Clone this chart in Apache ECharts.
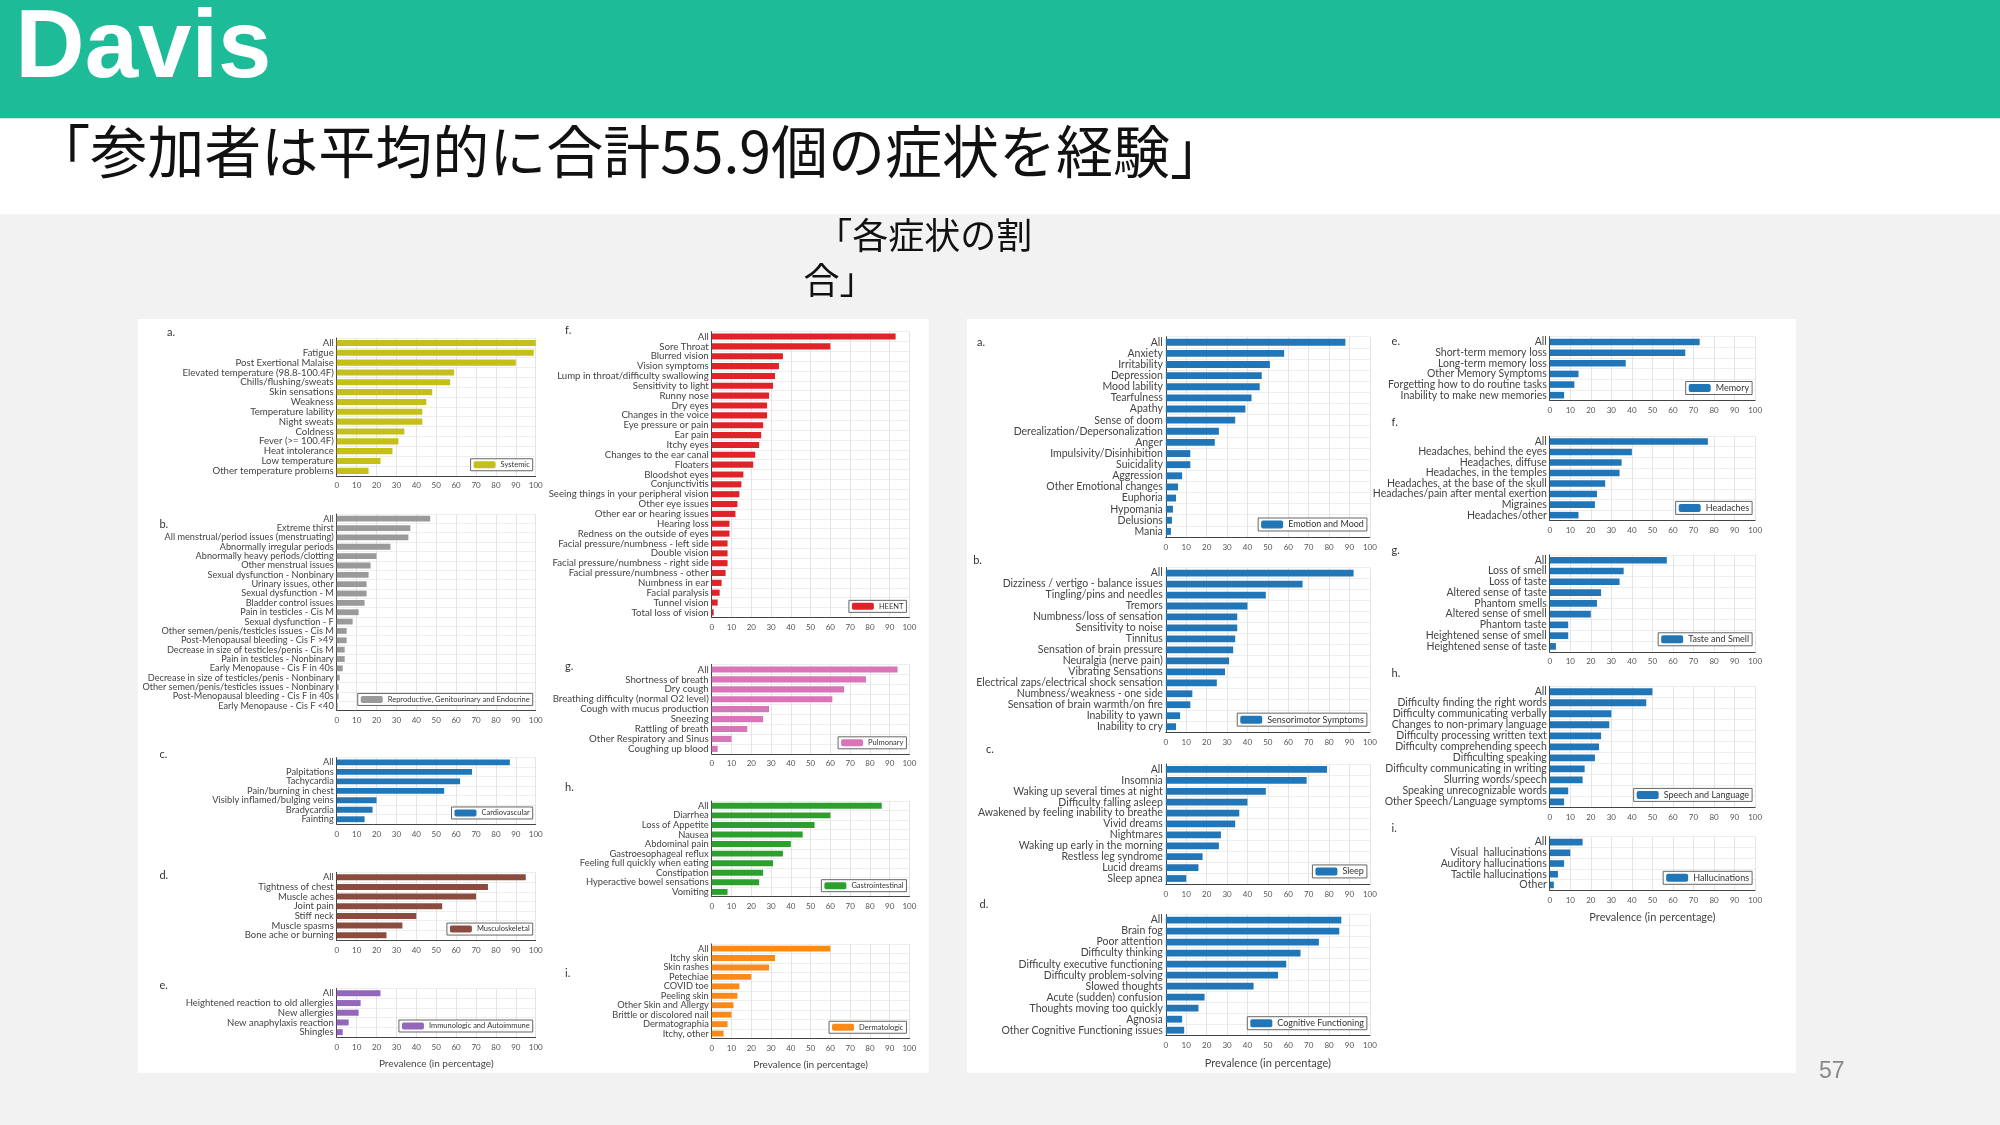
<!DOCTYPE html>
<html>
<head>
<meta charset="utf-8">
<title>Davis</title>
<script src="https://cdn.jsdelivr.net/npm/echarts@6/dist/echarts.min.js"></script>
<style>html,body{margin:0;padding:0;background:#f2f2f2}</style>
</head>
<body>
<div id="main" style="width:2000px;height:1125px;"></div>
<script>
// ---- data (percent prevalence) ----
var sysLabels = ['All','Fatigue','Post Exertional Malaise','Elevated temperature (98.8-100.4F)','Chills/flushing/sweats','Skin sensations','Weakness','Temperature lability','Night sweats','Coldness','Fever (>= 100.4F)','Heat intolerance','Low temperature','Other temperature problems'];
var sysValues = [100,99,90,59,57,48,45,43,43,34,31,28,22,16];
var repLabels = ['All','Extreme thirst','All menstrual/period issues (menstruating)','Abnormally irregular periods','Abnormally heavy periods/clotting','Other menstrual issues','Sexual dysfunction - Nonbinary','Urinary issues, other','Sexual dysfunction - M','Bladder control issues','Pain in testicles - Cis M','Sexual dysfunction - F','Other semen/penis/testicles issues - Cis M','Post-Menopausal bleeding - Cis F >49','Decrease in size of testicles/penis - Cis M','Pain in testicles - Nonbinary','Early Menopause - Cis F in 40s','Decrease in size of testicles/penis - Nonbinary','Other semen/penis/testicles issues - Nonbinary','Post-Menopausal bleeding - Cis F in 40s','Early Menopause - Cis F <40'];
var repValues = [47,37,36,27,20,17,16,15,15,14,11,8,5,5,4,4,3,1.5,1,1,0.5];
var carLabels = ['All','Palpitations','Tachycardia','Pain/burning in chest','Visibly inflamed/bulging veins','Bradycardia','Fainting'];
var carValues = [87,68,62,54,20,18,14];
var musLabels = ['All','Tightness of chest','Muscle aches','Joint pain','Stiff neck','Muscle spasms','Bone ache or burning'];
var musValues = [95,76,70,53,40,33,25];
var immLabels = ['All','Heightened reaction to old allergies','New allergies','New anaphylaxis reaction','Shingles'];
var immValues = [22,12,11,6,3];
var heeLabels = ['All','Sore Throat','Blurred vision','Vision symptoms','Lump in throat/difficulty swallowing','Sensitivity to light','Runny nose','Dry eyes','Changes in the voice','Eye pressure or pain','Ear pain','Itchy eyes','Changes to the ear canal','Floaters','Bloodshot eyes','Conjunctivitis','Seeing things in your peripheral vision','Other eye issues','Other ear or hearing issues','Hearing loss','Redness on the outside of eyes','Facial pressure/numbness - left side','Double vision','Facial pressure/numbness - right side','Facial pressure/numbness - other','Numbness in ear','Facial paralysis','Tunnel vision','Total loss of vision'];
var heeValues = [93,60,36,34,32,31,29,28,28,26,25,24,22,21,16,15,14,13,12,9,9,8,8,8,7,5,4,3,1];
var pulLabels = ['All','Shortness of breath','Dry cough','Breathing difficulty (normal O2 level)','Cough with mucus production','Sneezing','Rattling of breath','Other Respiratory and Sinus','Coughing up blood'];
var pulValues = [94,78,67,61,29,26,18,10,3];
var gasLabels = ['All','Diarrhea','Loss of Appetite','Nausea','Abdominal pain','Gastroesophageal reflux','Feeling full quickly when eating','Constipation','Hyperactive bowel sensations','Vomiting'];
var gasValues = [86,60,52,46,40,36,31,26,24,8];
var derLabels = ['All','Itchy skin','Skin rashes','Petechiae','COVID toe','Peeling skin','Other Skin and Allergy','Brittle or discolored nail','Dermatographia','Itchy, other'];
var derValues = [60,32,29,20,14,13,11,10,8,6];
var emoLabels = ['All','Anxiety','Irritability','Depression','Mood lability','Tearfulness','Apathy','Sense of doom','Derealization/Depersonalization','Anger','Impulsivity/Disinhibition','Suicidality','Aggression','Other Emotional changes','Euphoria','Hypomania','Delusions','Mania'];
var emoValues = [88,58,51,47,46,42,39,34,26,24,12,12,8,6,5,3.5,3,2.5];
var senLabels = ['All','Dizziness / vertigo - balance issues','Tingling/pins and needles','Tremors','Numbness/loss of sensation','Sensitivity to noise','Tinnitus','Sensation of brain pressure','Neuralgia (nerve pain)','Vibrating Sensations','Electrical zaps/electrical shock sensation','Numbness/weakness - one side','Sensation of brain warmth/on fire','Inability to yawn','Inability to cry'];
var senValues = [92,67,49,40,35,35,34,33,31,29,25,13,12,7,5];
var slpLabels = ['All','Insomnia','Waking up several times at night','Difficulty falling asleep','Awakened by feeling inability to breathe','Vivid dreams','Nightmares','Waking up early in the morning','Restless leg syndrome','Lucid dreams','Sleep apnea'];
var slpValues = [79,69,49,40,36,34,27,26,18,16,10];
var cogLabels = ['All','Brain fog','Poor attention','Difficulty thinking','Difficulty executive functioning','Difficulty problem-solving','Slowed thoughts','Acute (sudden) confusion','Thoughts moving too quickly','Agnosia','Other Cognitive Functioning issues'];
var cogValues = [86,85,75,66,59,55,43,19,16,8,9];
var memLabels = ['All','Short-term memory loss','Long-term memory loss','Other Memory Symptoms','Forgetting how to do routine tasks','Inability to make new memories'];
var memValues = [73,66,37,14,12,7];
var hedLabels = ['All','Headaches, behind the eyes','Headaches, diffuse','Headaches, in the temples','Headaches, at the base of the skull','Headaches/pain after mental exertion','Migraines','Headaches/other'];
var hedValues = [77,40,35,34,27,23,22,14];
var tasLabels = ['All','Loss of smell','Loss of taste','Altered sense of taste','Phantom smells','Altered sense of smell','Phantom taste','Heightened sense of smell','Heightened sense of taste'];
var tasValues = [57,36,34,25,23,20,9,9,3];
var spcLabels = ['All','Difficulty finding the right words','Difficulty communicating verbally','Changes to non-primary language','Difficulty processing written text','Difficulty comprehending speech','Difficulting speaking','Difficulty communicating in writing','Slurring words/speech','Speaking unrecognizable words','Other Speech/Language symptoms'];
var spcValues = [50,47,30,29,25,24,22,17,16,9,7];
var halLabels = ['All','Visual  hallucinations','Auditory hallucinations','Tactile hallucinations','Other'];
var halValues = [16,10,7,4,2];

// ---- layout, in 1568-wide slide units, scaled below ----
var K = 2000 / 1568;
function S(v) { return v * K; }

var panels = [
  {l:'a.', lx:131, ly:256, name:'Systemic', c:'#c4bf1c', lab:sysLabels, val:sysValues, x0:264, x1:420, top:265, ax:373},
  {l:'b.', lx:125, ly:407, name:'Reproductive, Genitourinary and Endocrine', c:'#9a9a9a', lab:repLabels, val:repValues, x0:264, x1:420, top:403, ax:557},
  {l:'c.', lx:125, ly:587, name:'Cardiovascular', c:'#2176b8', lab:carLabels, val:carValues, x0:264, x1:420, top:594, ax:646},
  {l:'d.', lx:125, ly:682, name:'Musculoskeletal', c:'#8b4c3f', lab:musLabels, val:musValues, x0:264, x1:420, top:684, ax:737},
  {l:'e.', lx:125, ly:768, name:'Immunologic and Autoimmune', c:'#9467bd', lab:immLabels, val:immValues, x0:264, x1:420, top:775, ax:813, xname:true},
  {l:'f.', lx:443, ly:255, name:'HEENT', c:'#df2329', lab:heeLabels, val:heeValues, x0:558, x1:713, top:260, ax:484},
  {l:'g.', lx:443, ly:518, name:'Pulmonary', c:'#d974b9', lab:pulLabels, val:pulValues, x0:558, x1:713, top:521, ax:591},
  {l:'h.', lx:443, ly:613, name:'Gastrointestinal', c:'#2ca02c', lab:gasLabels, val:gasValues, x0:558, x1:713, top:628, ax:703},
  {l:'i.', lx:443, ly:759, name:'Dermatologic', c:'#fb8a18', lab:derLabels, val:derValues, x0:558, x1:713, top:740, ax:814, xname:true},
  {l:'a.', lx:766, ly:264, name:'Emotion and Mood', c:'#2176b8', lab:emoLabels, val:emoValues, x0:914, x1:1074, top:264, ax:421, big:true},
  {l:'b.', lx:763, ly:435, name:'Sensorimotor Symptoms', c:'#2176b8', lab:senLabels, val:senValues, x0:914, x1:1074, top:445, ax:574, big:true},
  {l:'c.', lx:773, ly:583, name:'Sleep', c:'#2176b8', lab:slpLabels, val:slpValues, x0:914, x1:1074, top:599, ax:693, big:true},
  {l:'d.', lx:768, ly:705, name:'Cognitive Functioning', c:'#2176b8', lab:cogLabels, val:cogValues, x0:914, x1:1074, top:717, ax:812, xname:true, big:true},
  {l:'e.', lx:1091, ly:263, name:'Memory', c:'#2176b8', lab:memLabels, val:memValues, x0:1215, x1:1376, top:264, ax:314, big:true},
  {l:'f.', lx:1091, ly:327, name:'Headaches', c:'#2176b8', lab:hedLabels, val:hedValues, x0:1215, x1:1376, top:342, ax:408, big:true},
  {l:'g.', lx:1091, ly:427, name:'Taste and Smell', c:'#2176b8', lab:tasLabels, val:tasValues, x0:1215, x1:1376, top:435, ax:511, big:true},
  {l:'h.', lx:1091, ly:524, name:'Speech and Language', c:'#2176b8', lab:spcLabels, val:spcValues, x0:1215, x1:1376, top:538, ax:633, big:true},
  {l:'i.', lx:1091, ly:645, name:'Hallucinations', c:'#2176b8', lab:halLabels, val:halValues, x0:1215, x1:1376, top:656, ax:698, xname:true, big:true}
];

var grids = [], xAxes = [], yAxes = [], series = [], legends = [];
var graphics = [
  {type:'rect', shape:{x:0, y:0, width:2000, height:S(93)}, style:{fill:'#1dbb98'}},
  {type:'rect', shape:{x:0, y:S(93), width:2000, height:S(75)}, style:{fill:'#ffffff'}},
  {type:'rect', shape:{x:S(108), y:S(250), width:S(620), height:S(591)}, style:{fill:'#ffffff'}},
  {type:'rect', shape:{x:S(758), y:S(250), width:S(650), height:S(591)}, style:{fill:'#ffffff'}},
  {type:'text', left:S(12), top:S(2), style:{text:'Davis', fill:'#fff', font:'bold 96px "Liberation Sans", Arial, sans-serif'}},
  {type:'text', left:S(26), top:S(96), style:{text:'「参加者は平均的に合計55.9個の症状を経験」', fill:'#111', font:'57px "Noto Sans CJK JP", sans-serif'}},
  {type:'text', left:S(640), top:S(170), style:{text:'「各症状の割', fill:'#111', font:'36px "Noto Sans CJK JP", sans-serif'}},
  {type:'text', left:S(630), top:S(206), style:{text:'合」', fill:'#111', font:'36px "Noto Sans CJK JP", sans-serif'}},
  {type:'text', left:S(1426), top:S(831), style:{text:'57', fill:'#888', font:'23px "Liberation Sans", Arial, sans-serif'}}
];

panels.forEach(function (p, i) {
  var n = p.lab.length;
  var step = (p.ax - p.top) / n * K;
  var fs = Math.max(7.5, Math.min(p.big ? 10.5 : 10, step * (p.big ? 1.1 : 0.98)));
  grids.push({left:S(p.x0), width:S(p.x1 - p.x0), top:S(p.top), height:S(p.ax - p.top)});
  xAxes.push({
    type:'value', gridIndex:i, min:0, max:100, interval:10,
    axisLine:{show:true, lineStyle:{color:'#444'}}, axisTick:{show:false},
    axisLabel:{fontSize:8, color:'#555', margin:6, fontFamily:'Lato'},
    splitLine:{show:true, lineStyle:{color:'#e4e4e4'}},
    name: p.xname ? 'Prevalence (in percentage)' : '', nameLocation:'middle', nameGap:22,
    nameTextStyle:{fontSize:p.big ? 11 : 10, color:'#444', fontFamily:'Lato'}
  });
  yAxes.push({
    type:'category', gridIndex:i, data:p.lab, inverse:true,
    axisLine:{show:true, lineStyle:{color:'#444'}}, axisTick:{show:false},
    axisLabel:{fontSize:fs, color:'#444', margin:3, interval:0, fontFamily:'Lato'},
    splitLine:{show:true, lineStyle:{color:'#eeeeee'}}
  });
  series.push({
    type:'bar', name:p.name, xAxisIndex:i, yAxisIndex:i, data:p.val,
    itemStyle:{color:p.c}, barCategoryGap:'38%', silent:true
  });
  legends.push({
    data:[p.name], right:2000 - S(p.x1) + 3, top:S(p.ax) - (p.big ? 19 : 17),
    itemWidth:22, itemHeight:p.big ? 8 : 7, itemGap:2, padding:[2, 3],
    borderColor:'#666', borderWidth:1, backgroundColor:'#fff',
    textStyle:{fontSize:p.big ? 9 : 7.5, color:'#333', fontFamily:'Lato'}, selectedMode:false
  });
  graphics.push({type:'text', left:S(p.lx), top:S(p.ly), style:{text:p.l, fill:'#333', font:'11px Lato, sans-serif'}});
});

var chart = echarts.init(document.getElementById('main'));
chart.setOption({
  backgroundColor:'#f2f2f2',
  animation:false,
  graphic:{elements:graphics},
  grid:grids, xAxis:xAxes, yAxis:yAxes, legend:legends, series:series
});
</script>
</body>
</html>
